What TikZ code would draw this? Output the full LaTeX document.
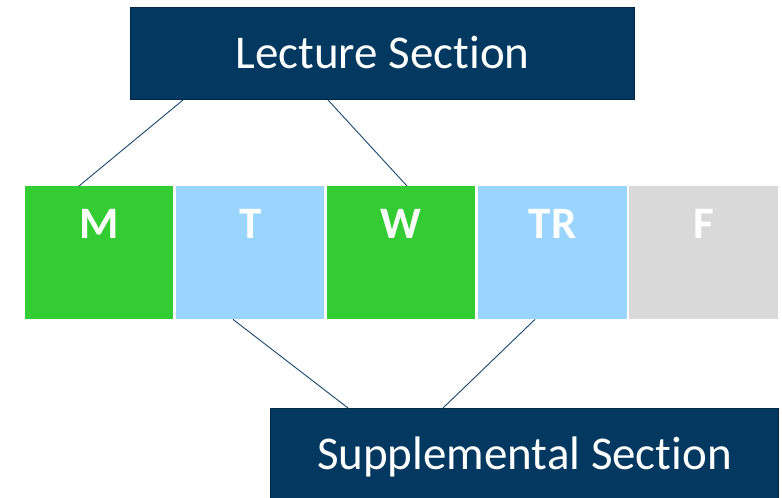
\documentclass[tikz,border=0pt]{standalone}
\usepackage{fontspec}
\setmainfont{Carlito}[Ligatures={NoCommon}]
\usetikzlibrary{calc}
\definecolor{navy}{RGB}{3,56,96}
\definecolor{navyedge}{RGB}{2,40,70}
\definecolor{linkc}{RGB}{25,70,110}
\definecolor{daygreen}{RGB}{51,204,51}
\definecolor{dayblue}{RGB}{153,213,255}
\definecolor{daygrey}{RGB}{217,217,217}
\tikzset{
  sectionbox/.style={draw=navyedge, line width=1pt, fill=navy, text=white,
    minimum width=504pt, minimum height=92pt, inner sep=0pt, anchor=north west,
    text height=30pt, text depth=0pt, font=\fontsize{47}{56}\selectfont},
  daybox/.style={fill=#1, minimum width=148pt, minimum height=133pt, inner sep=0pt,
    anchor=north west},
  daylbl/.style={text=white, font=\bfseries\fontsize{45}{52}\selectfont, inner sep=0pt, yshift=29pt},
  link/.style={draw=linkc, line width=0.9pt}
}
\begin{document}
\begin{tikzpicture}[x=1pt,y=-1pt]
\useasboundingbox (0,0) rectangle (782,498);
\begin{scope}
\clip (0,0) rectangle (782,498);
\node[sectionbox] (lec) at (130,7) {Lecture Section};
\node[daybox=daygreen, label={[daylbl]center:M}] (M) at (25,186) {};
\node[daybox=dayblue, label={[daylbl]center:T}] (T) at (176,186) {};
\node[daybox=daygreen, label={[daylbl]center:W}] (W) at (327,186) {};
\node[daybox=dayblue, minimum width=149pt, label={[daylbl]center:TR}] (TR) at (478,186) {};
\node[daybox=daygrey, minimum width=149pt, label={[daylbl]center:F}] (F) at (629,186) {};
\node[sectionbox, minimum width=508pt] (sup) at (270,408) {Supplemental Section};
\draw[link] ([xshift=53pt]lec.south west) -- ([xshift=54pt]M.north west);
\draw[link] ([xshift=198pt]lec.south west) -- ([xshift=80pt]W.north west);
\draw[link] ([xshift=57pt]T.south west) -- ([xshift=78pt]sup.north west);
\draw[link] ([xshift=57pt]TR.south west) -- ([xshift=173pt]sup.north west);
\end{scope}
\end{tikzpicture}
\end{document}
